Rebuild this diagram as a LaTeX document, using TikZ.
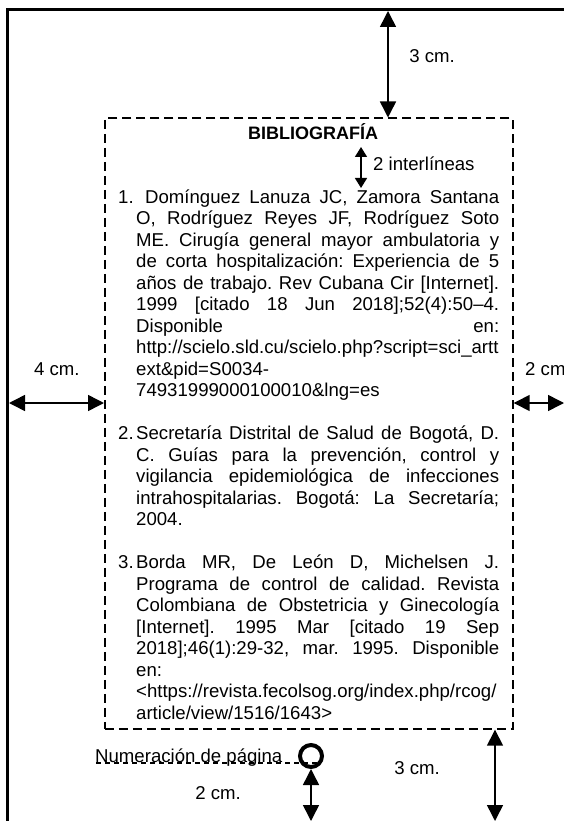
\documentclass[tikz,border=0pt]{standalone}
\usepackage{fontspec}
\setmainfont{Liberation Sans}
\usetikzlibrary{arrows.meta}
% a justified line of the given width
\newcommand{\jline}[2]{\makebox[#1][s]{#2}}
\frenchspacing
\begin{document}
\begin{tikzpicture}[x=1pt,y=-1pt,
  pageedge/.style={line width=3pt, line join=miter},
  margin/.style={draw, line width=1.7pt, dash pattern=on 9pt off 5pt, inner sep=0pt},
  dim/.style={line width=1.5pt, {Triangle[length=16pt,width=16pt]}-{Triangle[length=16pt,width=16pt]}},
  smalldim/.style={line width=1.5pt, {Triangle[length=10pt,width=12pt]}-{Triangle[length=10pt,width=12pt]}},
  txt/.style={inner sep=0pt, font=\fontsize{18.6}{21.5}\selectfont},
  ln/.style={txt, anchor=base west},
  leader/.style={line width=1.2pt, dash pattern=on 5pt off 4pt},
]
\useasboundingbox (0,0) rectangle (564,821);

% page edges (top and left)
\coordinate (pgBL) at (7.5,830);
\coordinate (pgTL) at (7.5,9.5);
\coordinate (pgTR) at (570,9.5);
\draw[pageedge] (pgBL) -- (pgTL) -- (pgTR);

% text area
\node[margin, minimum width=408pt, minimum height=610.5pt, anchor=north west] (box) at (104,117.5) {};

% margins
\coordinate (topA) at (388,11);
\draw[dim] (topA) -- (topA |- box.north);
\node[txt] (lblTop) at (432,56) {3 cm.};

\coordinate (leftA) at (9,403);
\draw[dim] (leftA) -- (leftA -| box.west);
\node[ln] (lblLeft) at (34,375) {4 cm.};

\coordinate (rightA) at (564,403);
\draw[dim] (rightA -| box.east) -- (rightA);
\node[ln] (lblRight) at (525,375) {2 cm};

\coordinate (botA) at (495,821);
\draw[dim] (botA |- box.south) -- (botA);
\node[txt] (lblBot) at (417,768) {3 cm.};

% heading
\node[txt, anchor=base, font=\fontsize{18}{21.5}\selectfont\bfseries] (title) at (313,139.5) {BIBLIOGRAFÍA};
\coordinate (ilTop) at (361,147);
\coordinate (ilBot) at (361,188);
\draw[smalldim] (ilTop) -- (ilBot);
\node[ln] (ilLbl) at (373,171) {2 interlíneas};

% reference 1
\node[ln] (n1) at (118,203) {1.};
\node[ln] (r1a) at (145,203) {\jline{354pt}{Domínguez Lanuza JC, Zamora Santana}};
\node[ln] (r1b) at (136,224.5) {\jline{363pt}{O, Rodríguez Reyes JF, Rodríguez Soto}};
\node[ln] (r1c) at (136,246) {\jline{363pt}{ME. Cirugía general mayor ambulatoria y}};
\node[ln] (r1d) at (136,267.5) {\jline{363pt}{de corta hospitalización: Experiencia de 5}};
\node[ln] (r1e) at (136,289) {\jline{363pt}{años de trabajo. Rev Cubana Cir [Internet].}};
\node[ln] (r1f) at (136,310.5) {\jline{363pt}{1999 [citado 18 Jun 2018];52(4):50–4.}};
\node[ln] (r1g) at (136,332) {\jline{363pt}{Disponible en:}};
\node[ln] (r1h) at (136,353.5) {http://scielo.sld.cu/scielo.php?script=sci\_artt};
\node[ln] (r1i) at (136,375) {ext\&pid=S0034-};
\node[ln] (r1j) at (136,396.5) {74931999000100010\&lng=es};

% reference 2
\node[ln] (n2) at (118,439.5) {2.};
\node[ln] (r2a) at (136,439.5) {\jline{363pt}{Secretaría Distrital de Salud de Bogotá, D.}};
\node[ln] (r2b) at (136,461) {\jline{363pt}{C. Guías para la prevención, control y}};
\node[ln] (r2c) at (136,482.5) {\jline{363pt}{vigilancia epidemiológica de infecciones}};
\node[ln] (r2d) at (136,504) {\jline{363pt}{intrahospitalarias. Bogotá: La Secretaría;}};
\node[ln] (r2e) at (136,525.5) {2004.};

% reference 3
\node[ln] (n3) at (118,568.5) {3.};
\node[ln] (r3a) at (136,568.5) {\jline{363pt}{Borda MR, De León D, Michelsen J.}};
\node[ln] (r3b) at (136,590) {\jline{363pt}{Programa de control de calidad. Revista}};
\node[ln] (r3c) at (136,611.5) {\jline{363pt}{Colombiana de Obstetricia y Ginecología}};
\node[ln] (r3d) at (136,633) {\jline{363pt}{[Internet]. 1995 Mar [citado 19 Sep}};
\node[ln] (r3e) at (136,654.5) {\jline{363pt}{2018];46(1):29-32, mar. 1995. Disponible}};
\node[ln] (r3f) at (136,676) {en:};
\node[ln] (r3g) at (136,697.5) {<https://revista.fecolsog.org/index.php/rcog/};
\node[ln] (r3h) at (136,719) {article/view/1516/1643>};

% page number
\node[circle, draw, line width=4pt, minimum size=22pt, inner sep=0pt] (pnum) at (311,756) {};
\coordinate (pnumEnd) at (319,763);
\coordinate (numStart) at (96,763);
\draw[leader] (numStart) -- (pnumEnd);
\node[ln] (numLbl) at (95,762) {Numeración de página};
\coordinate (pnumFoot) at (311,821);
\draw[dim] (pnum.south) -- (pnumFoot);
\node[txt] (lblFoot) at (218,793) {2 cm.};
\end{tikzpicture}
\end{document}
